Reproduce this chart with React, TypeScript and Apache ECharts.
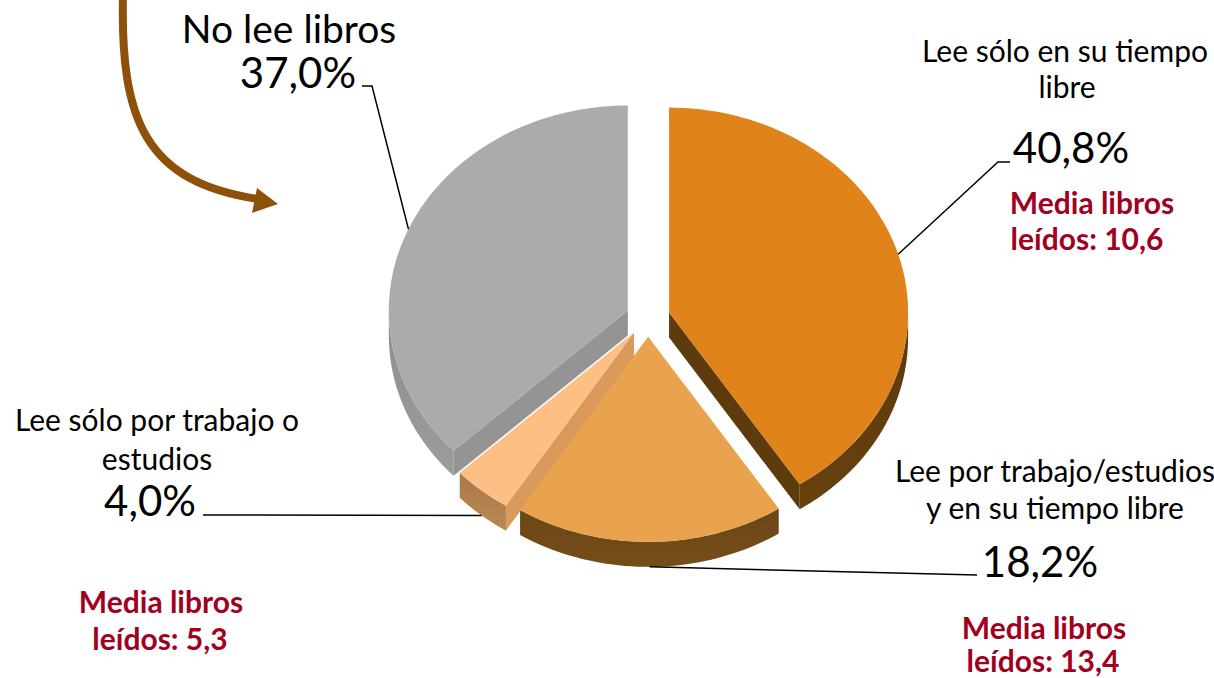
import React, { useEffect, useRef } from "react";
import * as echarts from "echarts";

// ---- data ----
const categories = [
  "Lee sólo en su tiempo libre",
  "Lee por trabajo/estudios y en su tiempo libre",
  "Lee sólo por trabajo o estudios",
  "No lee libros",
];
const nameLines = [
  ["Lee sólo en su tiempo", "libre"],
  ["Lee por trabajo/estudios", "y en su tiempo libre"],
  ["Lee sólo por trabajo o", "estudios"],
  ["No lee libros"],
];
const shares = [40.8, 18.2, 4.0, 37.0];
const shareLabels = ["40,8%", "18,2%", "4,0%", "37,0%"];
const mediaLibros = ["10,6", "13,4", "5,3", ""];

// ---- styling / layout ----
const topColors = ["#E0831A", "#E9A24E", "#FDBF84", "#ABABAB"];
const sideColors = ["#5E3B0C", "#6B4616", "#A97B4A", "#8E8E8E"];
const cutColors = ["#5E3B0C", "#6B4616", "#D99A5C", "#949494"];
const CX = 648;
const CY = 318;
const RX = 239;
const RY = 205;
const K = RY / RX;
const DEPTH = 25;
const EXPLODE = 22;
const FONT = "Lato, 'Open Sans', sans-serif";
const RED = "#A1001F";

// label layout per slice: [x, y, fontSize] per name line, pct center, media centers, leader elbows
const nameLayout = [
  [[1065, 50, 30], [1067, 86, 30]],
  [[1055, 470, 30], [1055, 507, 30]],
  [[157, 419, 30], [157, 458, 30]],
  [[289, 28, 39]],
];
const pctLayout = [
  [1071, 147],
  [1040, 561],
  [150, 500],
  [298, 72],
];
const mediaLayout = [
  [[1092, 202], [1087, 238]],
  [[1044, 627], [1043, 660]],
  [[161, 601], [160, 638]],
  null,
];
const leaderElbows = [
  [[998, 162], [1010, 162]],
  [[977, 575]],
  [[203, 515]],
  [[372, 86], [362, 86]],
];

const total = shares.reduce((a, b) => a + b, 0);
const startAngles: number[] = [];
{
  let acc = 0;
  for (const v of shares) {
    startAngles.push(acc);
    acc += (v / total) * 360;
  }
}

function renderItem(params: any, api: any) {
  const i = params.dataIndex;
  const value = api.value(0);
  const start = startAngles[i];
  const end = start + (value / total) * 360;
  const mid = (start + end) / 2;
  const rad = (d: number) => (d * Math.PI) / 180;
  const ox = CX + EXPLODE * Math.sin(rad(mid));
  const oy = CY - EXPLODE * K * Math.cos(rad(mid));
  const pt = (d: number, dy = 0) => [ox + RX * Math.sin(rad(d)), oy - RY * Math.cos(rad(d)) + dy];
  const arc = (a1: number, a2: number, dy: number) => {
    const n = Math.max(2, Math.ceil((a2 - a1) / 1.5));
    const pts: number[][] = [];
    for (let s = 0; s <= n; s++) pts.push(pt(a1 + ((a2 - a1) * s) / n, dy));
    return pts;
  };
  const children: any[] = [];
  // outer wall (front half only)
  const v1 = Math.max(start, 90);
  const v2 = Math.min(end, 270);
  if (v2 > v1) {
    children.push({
      type: "polygon",
      z2: 1,
      shape: { points: arc(v1, v2, 0).concat(arc(v1, v2, DEPTH).reverse()) },
      style: {
        fill: new echarts.graphic.LinearGradient(0, 0, 0, 1, [
          { offset: 0, color: sideColors[i] },
          { offset: 1, color: echarts.color.lift(sideColors[i], -0.1) },
        ]),
      },
    });
  }
  // radial cut walls
  const wall = (d: number) => {
    const p = pt(d);
    return {
      type: "polygon",
      z2: 1,
      shape: { points: [[ox, oy], p, [p[0], p[1] + DEPTH], [ox, oy + DEPTH]] },
      style: { fill: cutColors[i] },
    };
  };
  if (Math.sin(rad(start)) < -1e-6) children.push(wall(start));
  if (Math.sin(rad(end)) > 1e-6) children.push(wall(end));
  // top face
  children.push({
    type: "polygon",
    z2: 10,
    shape: { points: [[ox, oy]].concat(arc(start, end, 0)) },
    style: { fill: topColors[i] },
  });
  // leader line
  const lower = Math.cos(rad(mid)) < 0;
  const anchor = pt(mid, lower ? DEPTH : 0);
  children.push({
    type: "polyline",
    z2: 20,
    shape: { points: [anchor].concat(leaderElbows[i]) },
    style: { stroke: "#000", lineWidth: 1.5, fill: null },
  });
  // labels
  nameLines[i].forEach((line, j) => {
    const [x, y, fs] = nameLayout[i][j];
    children.push({
      type: "text",
      z2: 20,
      x,
      y,
      style: { text: line, fill: "#000", font: `${fs}px ${FONT}`, align: "center", verticalAlign: "middle" },
    });
  });
  children.push({
    type: "text",
    z2: 20,
    x: pctLayout[i][0],
    y: pctLayout[i][1],
    style: { text: shareLabels[i], fill: "#000", font: `42px ${FONT}`, align: "center", verticalAlign: "middle" },
  });
  const ml = mediaLayout[i];
  if (ml && mediaLibros[i]) {
    const lines = ["Media libros", `leídos: ${mediaLibros[i]}`];
    lines.forEach((t, j) => {
      children.push({
        type: "text",
        z2: 20,
        x: ml[j][0],
        y: ml[j][1],
        style: { text: t, fill: RED, font: `bold 30px ${FONT}`, align: "center", verticalAlign: "middle" },
      });
    });
  }
  return { type: "group", children };
}

export default function App() {
  const ref = useRef<HTMLDivElement>(null);
  useEffect(() => {
    if (!ref.current) return;
    const chart = echarts.init(ref.current, null, { renderer: "svg" });
    chart.setOption({
      animation: false,
      backgroundColor: "#ffffff",
      graphic: [
        {
          type: "bezierCurve",
          shape: { x1: 123, y1: -6, cpx1: 120, cpy1: 120, cpx2: 145, cpy2: 182, x2: 258, y2: 199 },
          style: { stroke: "#8E5109", lineWidth: 8, fill: null },
        },
        {
          type: "polygon",
          shape: { points: [[257, 188], [278, 204], [252, 213]] },
          style: { fill: "#8E5109" },
        },
      ],
      series: [
        {
          type: "custom",
          coordinateSystem: "none",
          silent: true,
          data: shares.map((v, i) => ({ name: categories[i], value: [v] })),
          renderItem,
        },
      ],
    });
    return () => chart.dispose();
  }, []);
  return <div ref={ref} style={{ position: "fixed", left: 0, top: 0, width: 1214, height: 678 }} />;
}
